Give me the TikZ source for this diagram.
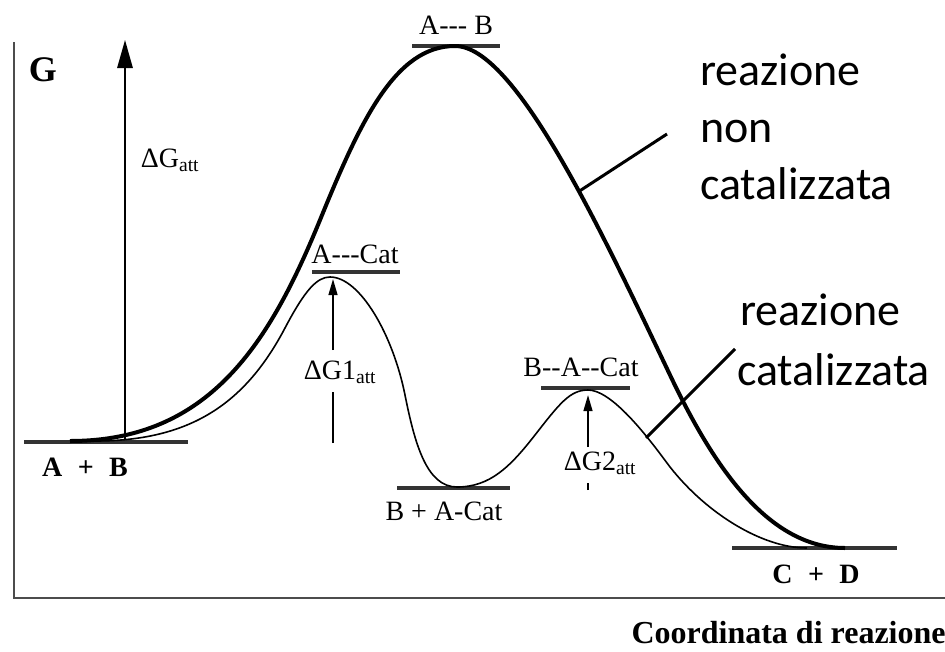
\documentclass[tikz,border=0pt]{standalone}
\usepackage{fontspec}
\setmainfont{Liberation Serif}[Ligatures=TeXOff]
\newfontfamily\notefont{Carlito}
\usepackage{tikz}
\usetikzlibrary{arrows.meta}

\begin{document}
\begin{tikzpicture}[
  x=1pt, y=-1pt,
  axis/.style={line width=1.8pt, draw=black!70},
  level/.style={line width=4pt, draw=black!80},
  uncat/.style={line width=4pt, line join=round},
  cat/.style={line width=1.6pt},
  garr/.style={line width=1.8pt, -{Triangle[length=#1, width=0.55*#1]}},
  garr/.default=28pt,
  gline/.style={line width=1.8pt},
  species/.style={font=\fontsize{28}{30}\selectfont, inner sep=1pt},
  bspecies/.style={font=\fontsize{28}{30}\selectfont\bfseries, inner sep=1pt},
  note/.style={font=\notefont\fontsize{46}{57}\selectfont, align=left, anchor=north west, inner sep=0pt},
  pointer/.style={line width=3pt}
]
  \useasboundingbox (0,0) rectangle (945,651);

  % ===== AXES =====
  \coordinate (gtop) at (14,42);
  \coordinate (origin) at (14,598);
  \coordinate (xend) at (945,598);
  \draw[axis] (gtop) -- (origin) -- (xend);
  \node[font=\fontsize{36}{38}\selectfont\bfseries] (G) at (43,70) {G};
  \node[font=\fontsize{32}{34}\selectfont\bfseries, anchor=base west] (xlab) at (628,643) {Coordinata di reazione};

  % levels
  \draw[level] (24,442) -- (188,442);
  \draw[level] (412,46) -- (500,46);
  \draw[level] (312,272) -- (400,272);
  \draw[level] (397,488) -- (510,488);
  \draw[level] (541,388) -- (630,388);
  \draw[level] (732,548) -- (897,548);

  \node[bspecies] (ab) at (85,467) {A\hspace{0.55em}+\hspace{0.55em}B};
  \node[species] (tsab) at (456,25) {A--- B};
  \node[species] (tsacat) at (355,254) {A---Cat};
  \node[species] (bacat) at (444,511) {B + A-Cat};
  \node[species] (tsbacat) at (581,367) {B--A--Cat};
  \node[bspecies] (cd) at (816,574) {C\hspace{0.55em}+\hspace{0.55em}D};

  % ===== CURVES =====
  % non catalizzata
  \draw[uncat] (70,441) .. controls (210,441) and (270,342) .. (320,220)
    .. controls (360,122) and (395,46) .. (455,46)
    .. controls (515,46) and (600,228) .. (670,375)
    .. controls (710,459) and (765,548) .. (845,548);
  % catalizzata
  \draw[cat] (95,441) .. controls (190,441) and (245,404) .. (285,328)
    .. controls (305,290) and (317,277) .. (330,277)
    .. controls (360,277) and (393,335) .. (405,395)
    .. controls (415,445) and (427,487) .. (457,487)
    .. controls (490,487) and (510,467) .. (535,435)
    .. controls (560,403) and (570,390) .. (588,390)
    .. controls (610,390) and (642,429) .. (667,463)
    .. controls (702,510) and (760,548) .. (807,548);

  % ===== ACTIVATION =====
  \coordinate (gbase) at (125,440);
  \coordinate (gtip) at (125,40);
  \draw[garr] (gbase) -- (gtip);
  \node[species] (gatt) at (170,160) {ΔG\textsubscript{att}};

  \coordinate (g1base) at (333,443);
  \coordinate (g1bot) at (333,392);
  \coordinate (g1top) at (333,350);
  \coordinate (g1tip) at (333,279);
  \draw[gline] (g1base) -- (g1bot);
  \draw[garr=16pt] (g1top) -- (g1tip);
  \node[species] (g1) at (340,372) {ΔG1\textsubscript{att}};

  \coordinate (g2tick) at (588,490);
  \coordinate (g2bot) at (588,483);
  \coordinate (g2top) at (588,447);
  \coordinate (g2tip) at (588,395);
  \draw[gline] (g2tick) -- (g2bot);
  \draw[garr=16pt] (g2top) -- (g2tip);
  \node[species] (g2) at (600,463) {ΔG2\textsubscript{att}};

  % ===== NOTES =====
  \node[note] (nnc) at (700,54) {reazione\\non\\catalizzata};
  \coordinate (pnc) at (578,192);
  \coordinate (pncend) at (667,134);
  \draw[pointer] (pnc) -- (pncend);

  \node[note] (nc) at (737,294) {\hspace*{3pt}reazione\\[3pt]catalizzata};
  \coordinate (pc) at (646,438);
  \coordinate (pcend) at (735,349);
  \draw[pointer] (pc) -- (pcend);
\end{tikzpicture}
\end{document}
